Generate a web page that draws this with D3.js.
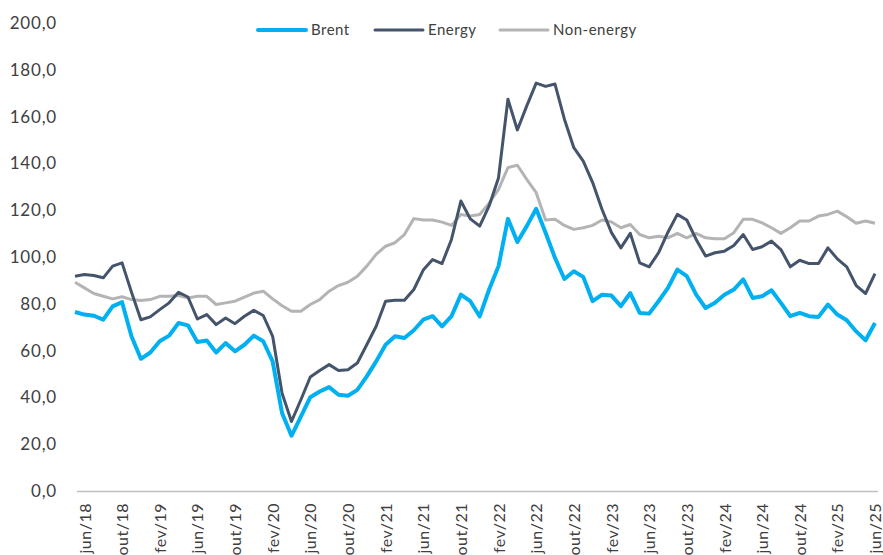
<!DOCTYPE html>
<html lang="pt">
<head>
<meta charset="UTF-8">
<title>Brent, Energy, Non-energy</title>
<script src="https://d3js.org/d3.v7.min.js"></script>
<style>
  body { margin: 0; background: #fff; }
  svg text { font-family: Lato, "Open Sans", sans-serif; fill: #404040; }
  .tick line { display: none; }
  .domain { display: none; }
</style>
</head>
<body>
<div id="chart"></div>
<script>
// monthly, mai/18 .. jun/25
var months = [
  "mai/18","jun/18","jul/18","ago/18","set/18","out/18","nov/18","dez/18",
  "jan/19","fev/19","mar/19","abr/19","mai/19","jun/19","jul/19","ago/19","set/19","out/19","nov/19","dez/19",
  "jan/20","fev/20","mar/20","abr/20","mai/20","jun/20","jul/20","ago/20","set/20","out/20","nov/20","dez/20",
  "jan/21","fev/21","mar/21","abr/21","mai/21","jun/21","jul/21","ago/21","set/21","out/21","nov/21","dez/21",
  "jan/22","fev/22","mar/22","abr/22","mai/22","jun/22","jul/22","ago/22","set/22","out/22","nov/22","dez/22",
  "jan/23","fev/23","mar/23","abr/23","mai/23","jun/23","jul/23","ago/23","set/23","out/23","nov/23","dez/23",
  "jan/24","fev/24","mar/24","abr/24","mai/24","jun/24","jul/24","ago/24","set/24","out/24","nov/24","dez/24",
  "jan/25","fev/25","mar/25","abr/25","mai/25","jun/25"
];

var tickLabels = ["jun/18","out/18","fev/19","jun/19","out/19","fev/20","jun/20","out/20",
  "fev/21","jun/21","out/21","fev/22","jun/22","out/22","fev/23","jun/23","out/23",
  "fev/24","jun/24","out/24","fev/25","jun/25"];

var yTicks = [0, 20, 40, 60, 80, 100, 120, 140, 160, 180, 200];

var brent = [
  76.5, 75.4, 74.9, 73.2, 78.9, 80.7, 66.1, 56.5,
  59.2, 64.0, 66.4, 71.8, 70.8, 63.7, 64.3, 59.2, 63.2, 59.7, 62.5, 66.4,
  64.0, 55.4, 33.3, 23.6, 31.8, 40.1, 42.5, 44.4, 41.1, 40.7, 43.2, 49.0,
  55.4, 62.5, 66.1, 65.4, 68.7, 73.2, 74.7, 70.4, 74.7, 83.9, 81.1, 74.6,
  86.1, 96.1, 116.3, 106.4, 113.2, 120.6, 110.4, 99.6, 90.6, 93.9, 91.5, 81.1,
  83.9, 83.5, 79.0, 84.6, 76.1, 75.8, 81.1, 86.8, 94.6, 91.8, 83.9, 78.2,
  80.4, 83.9, 86.1, 90.4, 82.5, 83.2, 85.8, 80.4, 74.7, 76.1, 74.7, 74.4,
  79.7, 75.4, 73.0, 68.2, 64.4, 71.8
];

var energy = [
  91.8, 92.5, 92.1, 91.1, 96.1, 97.5, 85.0, 73.2,
  74.4, 77.5, 80.4, 84.9, 82.9, 73.5, 75.4, 71.1, 73.9, 71.5, 74.7, 77.2,
  75.0, 66.1, 41.8, 29.7, 39.0, 48.7, 51.5, 54.0, 51.5, 51.8, 54.7, 62.5,
  70.4, 81.1, 81.5, 81.5, 86.1, 94.4, 98.9, 97.2, 107.5, 123.9, 116.3, 113.2,
  121.8, 133.9, 167.4, 154.3, 164.6, 174.3, 172.9, 173.9, 158.9, 146.7, 141.0, 131.8,
  120.3, 110.4, 103.9, 110.1, 97.5, 95.8, 101.8, 110.6, 118.2, 115.8, 107.5, 100.4,
  101.8, 102.5, 104.9, 109.6, 103.2, 104.4, 106.8, 103.2, 95.8, 98.6, 97.2, 97.2,
  103.9, 99.2, 95.8, 87.8, 84.4, 92.9
];

var nonEnergy = [
  89.2, 86.8, 84.4, 83.2, 82.1, 83.0, 81.8, 81.4,
  81.8, 83.2, 83.2, 83.5, 82.5, 83.2, 83.2, 79.7, 80.4, 81.1, 82.9, 84.6,
  85.4, 82.1, 79.2, 76.8, 76.8, 79.7, 81.8, 85.4, 87.8, 89.2, 91.8, 96.1,
  101.1, 104.6, 106.1, 109.6, 116.4, 115.8, 115.8, 114.9, 113.5, 118.2, 117.5, 118.2,
  123.0, 128.9, 138.2, 139.2, 133.2, 127.5, 115.8, 116.1, 113.5, 111.8, 112.5, 113.5,
  115.8, 115.0, 112.5, 113.9, 109.6, 108.2, 108.9, 108.2, 110.1, 108.2, 110.1, 108.2,
  107.8, 107.8, 110.4, 116.1, 116.1, 114.6, 112.5, 110.1, 112.5, 115.4, 115.4, 117.5,
  118.2, 119.6, 117.2, 114.4, 115.4, 114.4
];

var series = [
  {name: "Brent", values: brent, color: "#00b0f0", width: 4},
  {name: "Energy", values: energy, color: "#44546a", width: 3},
  {name: "Non-energy", values: nonEnergy, color: "#b4b4b4", width: 3}
];

var width = 883, height = 555;

var svg = d3.select("#chart").append("svg")
  .attr("width", width)
  .attr("height", height);

var x = d3.scalePoint().domain(months).range([75, 875]);
var y = d3.scaleLinear().domain([0, 200]).range([491, 23]);

var ptBR = d3.formatLocale({decimal: ",", thousands: ".", grouping: [3], currency: ["R$", ""]});
var fmt = ptBR.format(".1f");

// y axis labels (no line)
svg.append("g")
  .attr("transform", "translate(57,0)")
  .call(d3.axisLeft(y).tickValues(yTicks).tickFormat(fmt).tickSize(0).tickPadding(0))
  .selectAll("text")
    .style("font-size", "17px")
    .style("letter-spacing", "0.8px");

// x axis
svg.append("line")
  .attr("x1", 77).attr("x2", 878)
  .attr("y1", 491.5).attr("y2", 491.5)
  .attr("stroke", "#bfbfbf")
  .attr("stroke-width", 1.5);

svg.append("g")
  .attr("transform", "translate(0,491)")
  .call(d3.axisBottom(x).tickValues(tickLabels).tickSize(0).tickPadding(0))
  .selectAll("text")
    .style("font-size", "16px")
    .style("letter-spacing", "0.5px")
    .attr("text-anchor", "end")
    .attr("transform", "rotate(-90)")
    .attr("x", -12)
    .attr("y", 0)
    .attr("dy", "0.35em");

var line = d3.line()
  .x(function(d, i) { return x(months[i]); })
  .y(function(d) { return y(d); });

// draw grey first, then energy, brent on top
svg.append("g").selectAll("path")
  .data(series.slice().reverse())
  .enter().append("path")
    .attr("d", function(s) { return line(s.values); })
    .attr("fill", "none")
    .attr("stroke", function(s) { return s.color; })
    .attr("stroke-width", function(s) { return s.width; })
    .attr("stroke-linejoin", "round");

// legend
var legendX = [258, 375, 500];
var legend = svg.append("g").selectAll("g")
  .data(series)
  .enter().append("g")
    .attr("transform", function(s, i) { return "translate(" + legendX[i] + ",30)"; });

legend.append("line")
  .attr("x1", 0).attr("x2", 48)
  .attr("stroke", function(s) { return s.color; })
  .attr("stroke-width", function(s) { return s.width; })
  .attr("stroke-linecap", "round");

legend.append("text")
  .attr("x", 53)
  .attr("dy", "0.35em")
  .style("font-size", "15px")
  .style("letter-spacing", "0.5px")
  .text(function(s) { return s.name; });
</script>
</body>
</html>
